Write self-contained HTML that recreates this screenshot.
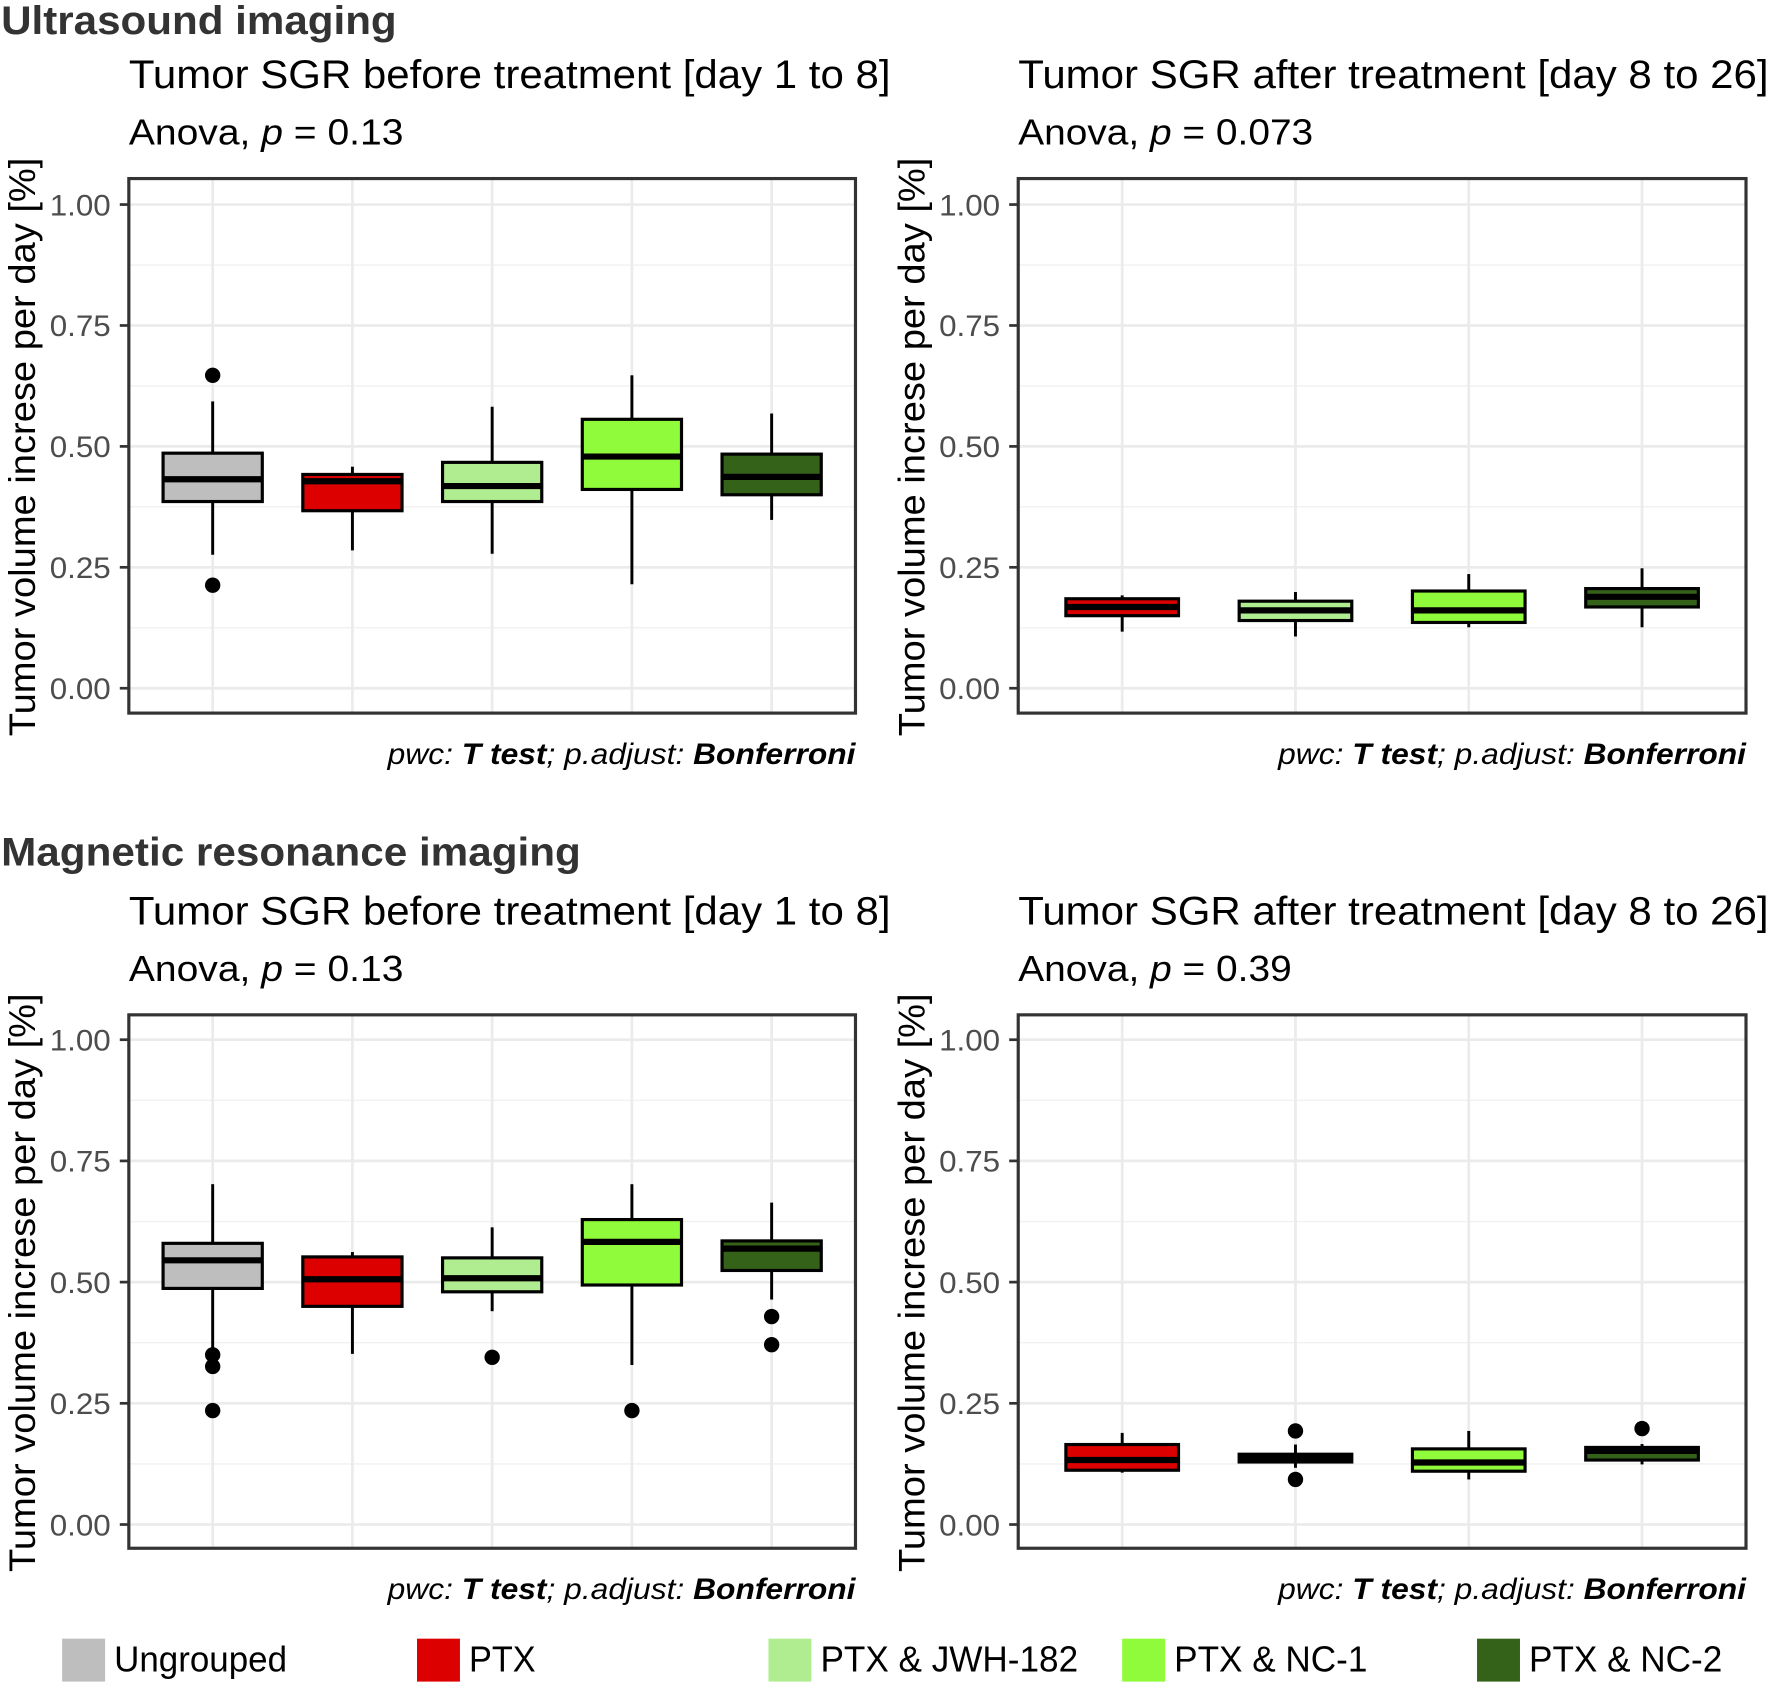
<!DOCTYPE html>
<html><head><meta charset="utf-8">
<style>
html,body{margin:0;padding:0;background:#fff;}
svg{display:block;}
text{font-family:"Liberation Sans",Arial,sans-serif;}
</style></head>
<body>
<svg id="fig" xmlns="http://www.w3.org/2000/svg" width="1772" height="1685" viewBox="0 0 1568 1491" preserveAspectRatio="none">
<g id="root"></g>
</svg>
<script>
// ---- data ----
const groups5 = ["Ungrouped","PTX","PTX & JWH-182","PTX & NC-1","PTX & NC-2"];
const groups4 = ["PTX","PTX & JWH-182","PTX & NC-1","PTX & NC-2"];
const colors5 = ["#bebebe","#dd0000","#b0ed90","#8ffb3a","#356219"];
const colors4 = ["#dd0000","#b0ed90","#8ffb3a","#356219"];
const yTicks = [0,0.25,0.5,0.75,1.0];
const yTickLabels = ["0.00","0.25","0.50","0.75","1.00"];

// [lowWhisker, Q1, median, Q3, highWhisker]
const usBeforeStats = [
  [0.276,0.386,0.432,0.486,0.593],
  [0.285,0.367,0.428,0.442,0.458],
  [0.278,0.386,0.418,0.467,0.582],
  [0.215,0.411,0.479,0.556,0.647],
  [0.348,0.400,0.437,0.484,0.568]
];
const usBeforeOutliers = [[0.647,0.213],[],[],[],[]];

const usAfterStats = [
  [0.117,0.150,0.168,0.185,0.192],
  [0.107,0.140,0.161,0.180,0.199],
  [0.126,0.136,0.161,0.201,0.236],
  [0.126,0.168,0.189,0.206,0.248]
];
const usAfterOutliers = [[],[],[],[]];

const mrBeforeStats = [
  [0.359,0.487,0.545,0.580,0.702],
  [0.352,0.450,0.506,0.552,0.562],
  [0.440,0.480,0.508,0.550,0.613],
  [0.329,0.494,0.583,0.629,0.702],
  [0.464,0.524,0.569,0.585,0.664]
];
const mrBeforeOutliers = [[0.350,0.326,0.235],[],[0.345],[0.235],[0.429,0.371]];

const mrAfterStats = [
  [0.107,0.112,0.133,0.165,0.189],
  [0.117,0.129,0.137,0.145,0.165],
  [0.093,0.110,0.128,0.156,0.193],
  [0.124,0.133,0.152,0.159,0.166]
];
const mrAfterOutliers = [[],[0.193,0.093],[],[0.198]];

// ---- drawing ----
const NS="http://www.w3.org/2000/svg";
const root=document.getElementById('root');
function mk(tag,attrs,parent,txt){
  const e=document.createElementNS(NS,tag);
  for(const k in attrs) e.setAttribute(k,attrs[k]);
  if(txt!==undefined) e.textContent=txt;
  (parent||root).appendChild(e);
  return e;
}

function panel(name,x0,x1,y0,y1,yZero,yOne,cats,cols,stats,outs,boxW,title,titleLen,pval,pvalLen){
  const g=mk('g',{});
  
  
  const n=cats.length;
  const unit=(x1-x0)/(n-1+1.2);
  const xs=i=>x0+(0.6+i)*unit;
  const ys=v=>yZero+(yOne-yZero)*v;
  for(let v=-0.125; v<=1.13; v+=0.25){
    const y=ys(v); if(y<y0||y>y1) continue;
    mk('line',{x1:x0,x2:x1,y1:y,y2:y,stroke:'#f1f1f1','stroke-width':1.2},g);
  }
  yTicks.forEach(v=>{
    mk('line',{x1:x0,x2:x1,y1:ys(v),y2:ys(v),stroke:'#ebebeb','stroke-width':2.4},g);
  });
  cats.forEach((c,i)=>{
    mk('line',{x1:xs(i),x2:xs(i),y1:y0,y2:y1,stroke:'#ebebeb','stroke-width':2.4},g);
  });
  yTicks.forEach((v,i)=>{
    const t=mk('text',{x:x0-16,y:ys(v)+9.5,'text-anchor':'end','font-size':26,fill:'#4d4d4d',textLength:54,lengthAdjust:'spacingAndGlyphs'},g,yTickLabels[i]);
    
    
    mk('line',{x1:x0-8,x2:x0,y1:ys(v),y2:ys(v),stroke:'#333','stroke-width':2.4},g);
  });
  stats.forEach((s,i)=>{
    const cx=xs(i), hw=boxW*unit/2;
    const bg=mk('g',{},g);
    
    
    mk('line',{x1:cx,x2:cx,y1:ys(s[0]),y2:ys(s[1]),stroke:'#000','stroke-width':2.6},bg);
    mk('line',{x1:cx,x2:cx,y1:ys(s[3]),y2:ys(s[4]),stroke:'#000','stroke-width':2.6},bg);
    mk('rect',{x:cx-hw,y:ys(s[3]),width:2*hw,height:Math.max(ys(s[1])-ys(s[3]),1),fill:cols[i],stroke:'#000','stroke-width':2.8},bg);
    mk('line',{x1:cx-hw,x2:cx+hw,y1:ys(s[2]),y2:ys(s[2]),stroke:'#000','stroke-width':5.5},bg);
    outs[i].forEach(o=>{
      const c=mk('circle',{cx:cx,cy:ys(o),r:6.8,fill:'#000'},bg);
      
      
    });
  });
  mk('rect',{x:x0,y:y0,width:x1-x0,height:y1-y0,fill:'none',stroke:'#333','stroke-width':2.8},g);
  const tt=mk('text',{x:x0,y:y0-80,'font-size':35,fill:'#000',textLength:titleLen,lengthAdjust:'spacingAndGlyphs'},g,title);
  
  
  const an=mk('text',{x:x0,y:y0-30,'font-size':32,fill:'#000',textLength:pvalLen,lengthAdjust:'spacingAndGlyphs'},g);
  
  
  mk('tspan',{},an,'Anova, ');
  mk('tspan',{'font-style':'italic'},an,'p');
  mk('tspan',{},an,' = '+pval);
  const yc=(y0+y1)/2;
  const ya=mk('text',{x:0,y:0,'font-size':33,fill:'#000','text-anchor':'middle',textLength:512,lengthAdjust:'spacingAndGlyphs',transform:`translate(${x0-83},${yc+1}) rotate(-90)`},g,'Tumor volume increse per day [%]');
  
  
  const cp=mk('text',{x:x1-414,y:y1+45,'font-size':26,'font-style':'italic',fill:'#000',textLength:414,lengthAdjust:'spacingAndGlyphs'},g);
  
  
  mk('tspan',{},cp,'pwc: ');
  mk('tspan',{'font-weight':'bold'},cp,'T test');
  mk('tspan',{},cp,'; p.adjust: ');
  mk('tspan',{'font-weight':'bold'},cp,'Bonferroni');
}

let h=mk('text',{x:1,y:30,'font-size':35,'font-weight':'bold',fill:'#333',textLength:350,lengthAdjust:'spacingAndGlyphs'},root,'Ultrasound imaging');


h=mk('text',{x:1,y:766,'font-size':35,'font-weight':'bold',fill:'#333',textLength:513,lengthAdjust:'spacingAndGlyphs'},root,'Magnetic resonance imaging');



panel('us-before-panel',114,757,158,631,609,181,groups5,colors5,usBeforeStats,usBeforeOutliers,0.71,'Tumor SGR before treatment [day 1 to 8]',674,'0.13',243);
panel('us-after-panel',901,1545,158,631,609,181,groups4,colors4,usAfterStats,usAfterOutliers,0.65,'Tumor SGR after treatment [day 8 to 26]',664,'0.073',261);
panel('mri-before-panel',114,757,898,1370,1349,920,groups5,colors5,mrBeforeStats,mrBeforeOutliers,0.71,'Tumor SGR before treatment [day 1 to 8]',674,'0.13',243);
panel('mri-after-panel',901,1545,898,1370,1349,920,groups4,colors4,mrAfterStats,mrAfterOutliers,0.65,'Tumor SGR after treatment [day 8 to 26]',664,'0.39',242);

const legX=[55,369,680,993,1307];
const legLen=[153,59,228,171,171];
const lg=mk('g',{});


groups5.forEach((gname,i)=>{
  const e=mk('g',{},lg);
  
  
  mk('rect',{x:legX[i],y:1450,width:38,height:38,fill:colors5[i]},e);
  mk('text',{x:legX[i]+46,y:1479,'font-size':32,fill:'#000',textLength:legLen[i],lengthAdjust:'spacingAndGlyphs'},e,gname);
});
</script>
</body></html>
